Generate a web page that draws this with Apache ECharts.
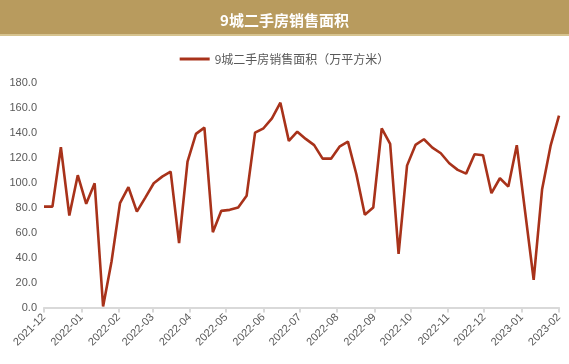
<!DOCTYPE html>
<html>
<head>
<meta charset="utf-8">
<script src="https://cdn.jsdelivr.net/npm/echarts@6/dist/echarts.min.js"></script>
<style>html,body{margin:0;padding:0;background:#fff;}#c{width:569px;height:364px;}</style>
</head>
<body>
<div id="c"></div>
<script>
var titleText = '9城二手房销售面积';
var seriesName = '9城二手房销售面积（万平方米）';
var dates = [
  '2021-12-01','2021-12-08','2021-12-15','2021-12-22','2021-12-29',
  '2022-01-05','2022-01-12','2022-01-19','2022-01-26',
  '2022-02-02','2022-02-09','2022-02-16','2022-02-23',
  '2022-03-02','2022-03-09','2022-03-16','2022-03-23','2022-03-30',
  '2022-04-06','2022-04-13','2022-04-20','2022-04-27',
  '2022-05-04','2022-05-11','2022-05-18','2022-05-25',
  '2022-06-01','2022-06-08','2022-06-15','2022-06-22','2022-06-29',
  '2022-07-06','2022-07-13','2022-07-20','2022-07-27',
  '2022-08-03','2022-08-10','2022-08-17','2022-08-24','2022-08-31',
  '2022-09-07','2022-09-14','2022-09-21','2022-09-28',
  '2022-10-05','2022-10-12','2022-10-19','2022-10-26',
  '2022-11-02','2022-11-09','2022-11-16','2022-11-23','2022-11-30',
  '2022-12-07','2022-12-14','2022-12-21','2022-12-28',
  '2023-01-04','2023-01-11','2023-01-18','2023-01-25',
  '2023-02-01'
];
var values = [
  80.8, 80.8, 128.3, 73.6, 105.9,
  83.0, 99.5, 0.8, 36.8,
  83.5, 96.3, 76.8, 88.0,
  99.5, 104.8, 108.8, 51.5, 116.8,
  139.0, 144.0, 60.3, 77.4,
  78.2, 80.0, 89.4, 140.0,
  143.5, 151.5, 164.0, 133.4, 140.8,
  135.0, 130.0, 119.2, 119.2,
  128.8, 132.8, 106.7, 74.2, 80.0,
  143.5, 131.0, 43.0, 113.6,
  130.2, 134.7, 128.0, 123.5,
  115.5, 110.2, 107.2, 122.7, 121.9,
  91.5, 103.5, 96.8, 130.0,
  76.0, 22.2, 94.7, 129.4,
  153.6
];
var monthTicks = ['2021-12','2022-01','2022-02','2022-03','2022-04','2022-05','2022-06','2022-07','2022-08','2022-09','2022-10','2022-11','2022-12','2023-01','2023-02'];
var yMin = 0, yMax = 180, yStep = 20;

function ts(s){ var p = s.split('-'); return new Date(+p[0], +p[1]-1, p[2] ? +p[2] : 1).getTime(); }
function fmt(v){ var d = new Date(v); var m = d.getMonth()+1; return d.getFullYear() + '-' + (m<10?'0'+m:m); }

var tickVals = monthTicks.map(ts);
var data = dates.map(function(d,i){ return [ts(d), values[i]]; });

var chart = echarts.init(document.getElementById('c'), null, {renderer:'canvas'});
chart.setOption({
  animation: false,
  backgroundColor: '#fff',
  graphic: [
    {type:'rect', left:0, top:0, z:-1, shape:{width:569, height:34}, style:{fill:'#B89B5E'}},
    {type:'rect', left:0, top:34, z:-1, shape:{width:569, height:2}, style:{fill:'#D6C38F'}}
  ],
  title: {
    text: titleText, left: 'center', top: 8,
    textStyle: {color:'#fff', fontSize:15, fontWeight:'bold', fontFamily:'"Noto Sans CJK SC", sans-serif'}
  },
  legend: {
    top: 48, left: 'center', itemWidth: 30, itemHeight: 3, itemGap: 5,
    icon: 'rect',
    textStyle: {color:'#595959', fontSize:12, fontFamily:'"Noto Sans CJK SC", sans-serif'},
    data: [{name: seriesName, icon: 'rect'}]
  },
  grid: {left:44, right:10, top:82.7, bottom:56.5, containLabel:false},
  xAxis: {
    type: 'value',
    min: tickVals[0], max: tickVals[tickVals.length-1],
    splitLine: {show:false},
    axisLine: {lineStyle:{color:'#D9D9D9', width:2}},
    axisTick: {show:true, customValues: tickVals, length:5, lineStyle:{color:'#D9D9D9', width:2}},
    axisLabel: {customValues: tickVals, rotate:45, formatter: fmt, color:'#595959', fontSize:11, fontFamily:'"Liberation Sans", Arial, sans-serif', margin:8}
  },
  yAxis: {
    type: 'value', min: yMin, max: yMax, interval: yStep,
    axisLine: {show:false}, axisTick: {show:false}, splitLine: {show:false},
    axisLabel: {formatter: function(v){ return v.toFixed(1); }, color:'#595959', fontSize:11, fontFamily:'"Liberation Sans", Arial, sans-serif', margin:7}
  },
  series: [{
    name: seriesName, type: 'line', data: data, showSymbol: false, symbol:'none',
    lineStyle: {color:'#A8321A', width:2.6}, itemStyle: {color:'#A8321A'}
  }]
});
</script>
</body>
</html>
